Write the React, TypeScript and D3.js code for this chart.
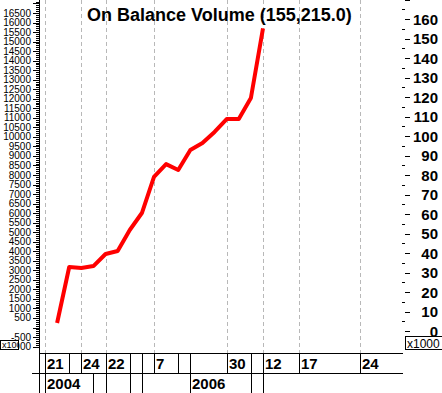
import React, { useEffect, useRef } from 'react';
import * as d3 from 'd3';

// OBV values (x1000), one per period, periods 1..18
const periods = [1, 2, 3, 4, 5, 6, 7, 8, 9, 10, 11, 12, 13, 14, 15, 16, 17, 18];
const obvValues = [4.1, 32.8, 32.3, 33.3, 39.5, 41.0, 51.8, 60.5, 79.0, 85.6, 82.6, 92.8, 96.4, 102.1, 108.7, 108.7, 119.5, 155.215];

// bottom axis rows
const dayLabels = [
  { i: 0, t: '21' }, { i: 3, t: '24' }, { i: 5, t: '22' }, { i: 9, t: '7' },
  { i: 15, t: '30' }, { i: 18, t: '12' }, { i: 21, t: '17' }, { i: 26, t: '24' },
];
const daySeparators = [0, 2, 3, 5, 7, 8, 9, 11, 12, 15, 17, 18, 21, 26];
const yearLabels = [{ i: 0, t: '2004' }, { i: 12, t: '2006' }];
const yearSeparators = [0, 4, 5, 7, 8, 12, 17, 18];

// axis ticks
const leftLabels = [16500, 16000, 15500, 15000, 14500, 14000, 13500, 13000, 12500, 12000, 11500, 11000,
  10500, 10000, 9500, 9000, 8500, 8000, 7500, 7000, 6500, 6000, 5500, 5000, 4500, 4000, 3500, 3000,
  2500, 2000, 1500, 1000, 500, -500, -1000];
const rightLabels = [0, 10, 20, 30, 40, 50, 60, 70, 80, 90, 100, 110, 120, 130, 140, 150, 160];

const title = 'On Balance Volume (155,215.0)';

const App = () => {
  const svgRef = useRef<SVGSVGElement>(null);

  useEffect(() => {
    const svg = d3.select(svgRef.current);
    svg.selectAll('*').remove();

    const width = 442;
    const axisY = 353;
    const font = 'Liberation Sans, Arial, sans-serif';

    const x = d3.scaleLinear().domain([0, 18]).range([45, 263]);
    const yR = d3.scaleLinear().domain([0, 160]).range([331, 19]);
    const yL = d3.scaleLinear().domain([0, 16500]).range([327.5, 13]);

    svg.append('rect').attr('width', width).attr('height', 393).attr('fill', '#fff');

    // vertical dashed grid
    svg.append('g').selectAll('line')
      .data(dayLabels)
      .enter().append('line')
      .attr('x1', d => Math.round(x(d.i)) + 0.5)
      .attr('x2', d => Math.round(x(d.i)) + 0.5)
      .attr('y1', 0).attr('y2', axisY)
      .attr('stroke', '#b8b8b8')
      .attr('stroke-dasharray', '4,3');

    // left ruler axis
    const gl = svg.append('g').attr('shape-rendering', 'crispEdges');
    gl.append('line').attr('x1', 39.5).attr('x2', 39.5).attr('y1', 0).attr('y2', 393).attr('stroke', '#000');
    gl.selectAll('.minor')
      .data(d3.range(-1000, 17200, 100))
      .enter().append('line')
      .attr('x1', d => (d % 500 === 0 ? 33 : 36))
      .attr('x2', 39)
      .attr('y1', d => Math.round(yL(d)) + 0.5)
      .attr('y2', d => Math.round(yL(d)) + 0.5)
      .attr('stroke', '#000');
    gl.selectAll('text')
      .data(leftLabels)
      .enter().append('text')
      .attr('x', 31)
      .attr('y', d => yL(d) + 3.5)
      .attr('text-anchor', 'end')
      .style('font-family', font)
      .style('font-size', '10px')
      .text(d => d);

    // left "x1000" box overlapping -1000
    const lb = svg.append('svg').attr('x', 0).attr('y', 340).attr('width', 19).attr('height', 10).style('overflow', 'hidden');
    lb.append('rect').attr('x', 0.5).attr('y', 0.5).attr('width', 18).attr('height', 9).attr('fill', '#fff').attr('stroke', '#000');
    lb.append('text').attr('x', 2).attr('y', 8).style('font-family', font)
      .style('font-size', '9px').text('x1000');

    // right axis
    const gr = svg.append('g').attr('shape-rendering', 'crispEdges');
    gr.selectAll('line')
      .data(d3.range(0, 175, 5))
      .enter().append('line')
      .attr('x1', d => (d % 10 === 0 ? 405 : 402))
      .attr('x2', d => (d % 10 === 0 ? 410 : 405))
      .attr('y1', d => Math.round(yR(d)) + 0.5)
      .attr('y2', d => Math.round(yR(d)) + 0.5)
      .attr('stroke', '#000');
    gr.selectAll('text')
      .data(rightLabels)
      .enter().append('text')
      .attr('x', 438)
      .attr('y', d => yR(d) + 5.5)
      .attr('text-anchor', 'end')
      .style('font-family', font)
      .style('font-size', '15px')
      .style('font-weight', 'bold')
      .text(d => d);

    // right "x1000" box
    svg.append('rect').attr('x', 405.5).attr('y', 336.5).attr('width', 40).attr('height', 13)
      .attr('fill', '#fff').attr('stroke', '#000');
    svg.append('text').attr('x', 407).attr('y', 347.5)
      .style('font-family', font)
      .style('font-size', '12px').text('x1000');

    // OBV line
    const line = d3.line<number>()
      .x((d, i) => x(periods[i]))
      .y(d => yR(d));
    svg.append('path')
      .datum(obvValues)
      .attr('d', line)
      .attr('fill', 'none')
      .attr('stroke', '#ff0000')
      .attr('stroke-width', 4)
      .attr('stroke-linejoin', 'round');

    // bottom date rows
    const gb = svg.append('g').attr('shape-rendering', 'crispEdges');
    gb.append('line').attr('x1', 39).attr('x2', 403).attr('y1', axisY + 0.5).attr('y2', axisY + 0.5).attr('stroke', '#000');
    gb.append('line').attr('x1', 32).attr('x2', 403).attr('y1', 373.5).attr('y2', 373.5).attr('stroke', '#000');
    gb.selectAll('.dsep')
      .data(daySeparators)
      .enter().append('line')
      .attr('x1', d => Math.round(x(d)) + 0.5)
      .attr('x2', d => Math.round(x(d)) + 0.5)
      .attr('y1', axisY).attr('y2', 373)
      .attr('stroke', '#000');
    gb.selectAll('.ysep')
      .data(yearSeparators)
      .enter().append('line')
      .attr('x1', d => Math.round(x(d)) + 0.5)
      .attr('x2', d => Math.round(x(d)) + 0.5)
      .attr('y1', 373).attr('y2', 393)
      .attr('stroke', '#000');
    gb.selectAll('.dl')
      .data(dayLabels)
      .enter().append('text')
      .attr('x', d => Math.round(x(d.i)) + 2)
      .attr('y', 369)
      .style('font-family', font)
      .style('font-size', '15px')
      .style('font-weight', 'bold')
      .text(d => d.t);
    gb.selectAll('.yl')
      .data(yearLabels)
      .enter().append('text')
      .attr('x', d => Math.round(x(d.i)) + 2)
      .attr('y', 389)
      .style('font-family', font)
      .style('font-size', '15px')
      .style('font-weight', 'bold')
      .text(d => d.t);

    // title
    svg.append('text')
      .attr('x', 87)
      .attr('y', 21)
      .style('font-family', font)
      .style('font-size', '18px')
      .style('font-weight', 'bold')
      .text(title);
  }, []);

  return (
    <div style={{ position: 'fixed', left: 0, top: 0 }}>
      <svg ref={svgRef} width={442} height={393} style={{ display: 'block' }} />
    </div>
  );
};

export default App;
